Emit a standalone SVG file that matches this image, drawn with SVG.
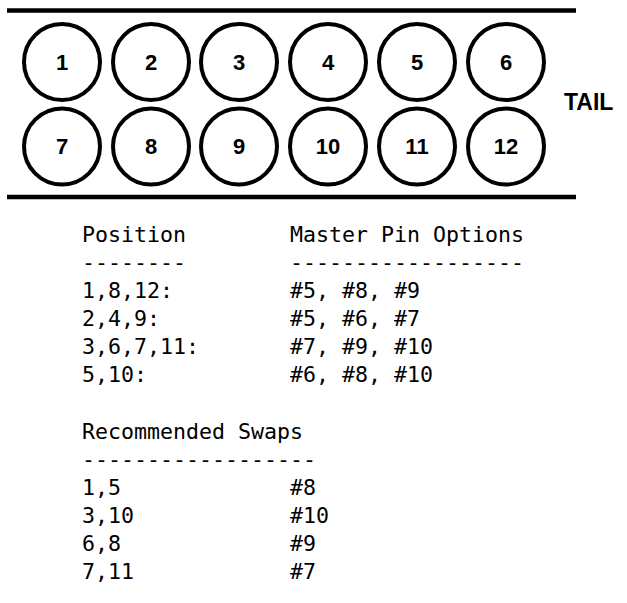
<svg xmlns="http://www.w3.org/2000/svg" width="627" height="603" viewBox="0 0 627 603">
<style>
.pin circle{fill:#fff;stroke:#000;stroke-width:4}
.pin text{font-family:"Liberation Sans",Arial,sans-serif;font-weight:bold;font-size:22px;text-anchor:middle;fill:#000}
.rail{stroke:#000;stroke-width:4.5}
.tail{font-family:"Liberation Sans",Arial,sans-serif;font-weight:bold;font-size:23px;fill:#000}
.mono{font-family:"DejaVu Sans Mono","Liberation Mono",monospace;font-size:21.6px;fill:#000}
</style>
<rect width="627" height="603" fill="#fff"/>
<g id="rails">
<line class="rail" x1="7" y1="10.5" x2="576" y2="10.5"/>
<line class="rail" x1="7" y1="197" x2="576" y2="197"/>
</g>
<g id="pin1" class="pin"><circle cx="62" cy="62" r="38"/><text x="62" y="70">1</text></g>
<g id="pin2" class="pin"><circle cx="151" cy="62" r="38"/><text x="151" y="70">2</text></g>
<g id="pin3" class="pin"><circle cx="239" cy="62" r="38"/><text x="239" y="70">3</text></g>
<g id="pin4" class="pin"><circle cx="328" cy="62" r="38"/><text x="328" y="70">4</text></g>
<g id="pin5" class="pin"><circle cx="417" cy="62" r="38"/><text x="417" y="70">5</text></g>
<g id="pin6" class="pin"><circle cx="506" cy="62" r="38"/><text x="506" y="70">6</text></g>
<g id="pin7" class="pin"><circle cx="62" cy="146.5" r="38"/><text x="62" y="153.5">7</text></g>
<g id="pin8" class="pin"><circle cx="151" cy="146.5" r="38"/><text x="151" y="153.5">8</text></g>
<g id="pin9" class="pin"><circle cx="239" cy="146.5" r="38"/><text x="239" y="153.5">9</text></g>
<g id="pin10" class="pin"><circle cx="328" cy="146.5" r="38"/><text x="328" y="153.5">10</text></g>
<g id="pin11" class="pin"><circle cx="417" cy="146.5" r="38"/><text x="417" y="153.5">11</text></g>
<g id="pin12" class="pin"><circle cx="506" cy="146.5" r="38"/><text x="506" y="153.5">12</text></g>
<g id="tail"><text class="tail" x="564" y="110">TAIL</text></g>
<g id="table1" class="mono">
<text x="82" y="242">Position</text>
<text x="290" y="242">Master Pin Options</text>
<text x="82" y="270">--------</text>
<text x="290" y="270">------------------</text>
<text x="82" y="298">1,8,12:</text>
<text x="290" y="298">#5, #8, #9</text>
<text x="82" y="326">2,4,9:</text>
<text x="290" y="326">#5, #6, #7</text>
<text x="82" y="354">3,6,7,11:</text>
<text x="290" y="354">#7, #9, #10</text>
<text x="82" y="382">5,10:</text>
<text x="290" y="382">#6, #8, #10</text>
</g>
<g id="table2" class="mono">
<text x="82" y="439">Recommended Swaps</text>
<text x="82" y="467">------------------</text>
<text x="82" y="495">1,5</text>
<text x="290" y="495">#8</text>
<text x="82" y="523">3,10</text>
<text x="290" y="523">#10</text>
<text x="82" y="551">6,8</text>
<text x="290" y="551">#9</text>
<text x="82" y="579">7,11</text>
<text x="290" y="579">#7</text>
</g>
</svg>
